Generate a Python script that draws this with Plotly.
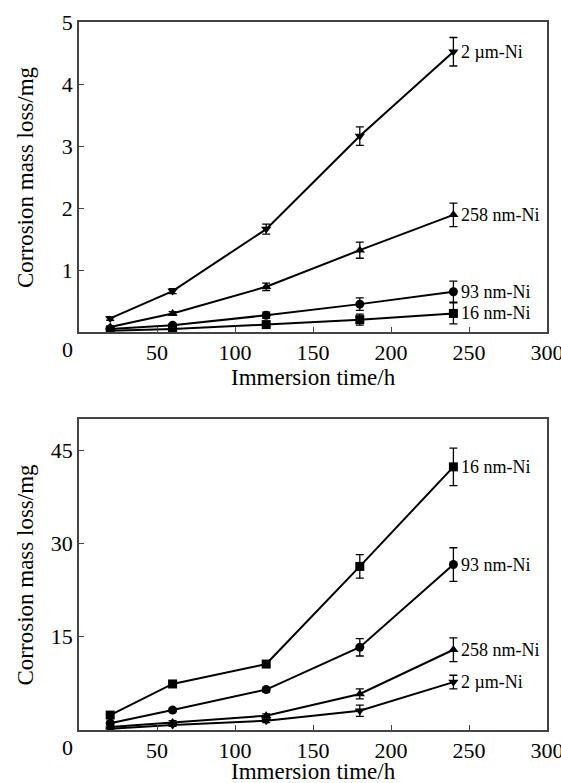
import plotly.graph_objects as go

# ---- data ----
time_h = [20, 60, 120, 180, 240]
series_names = ["2 µm-Ni", "258 nm-Ni", "93 nm-Ni", "16 nm-Ni"]
symbols = ["triangle-down", "triangle-up", "circle", "square"]

# top panel
top_vals = {
    "2 µm-Ni":   [0.22, 0.66, 1.66, 3.16, 4.52],
    "258 nm-Ni": [0.08, 0.30, 0.73, 1.32, 1.89],
    "93 nm-Ni":  [0.05, 0.11, 0.27, 0.45, 0.65],
    "16 nm-Ni":  [0.02, 0.05, 0.12, 0.20, 0.30],
}
top_err = {
    "2 µm-Ni":   [0.03, 0.04, 0.08, 0.15, 0.23],
    "258 nm-Ni": [0.02, 0.03, 0.06, 0.13, 0.19],
    "93 nm-Ni":  [0.02, 0.02, 0.05, 0.10, 0.17],
    "16 nm-Ni":  [0.02, 0.02, 0.03, 0.09, 0.17],
}
# bottom panel
bot_vals = {
    "16 nm-Ni":  [2.4, 7.4, 10.6, 26.3, 42.3],
    "93 nm-Ni":  [1.1, 3.2, 6.5, 13.3, 26.6],
    "258 nm-Ni": [0.5, 1.2, 2.3, 5.8, 12.9],
    "2 µm-Ni":   [0.2, 0.8, 1.5, 3.1, 7.7],
}
bot_err = {
    "16 nm-Ni":  [0.3, 0.3, 0.4, 1.9, 3.0],
    "93 nm-Ni":  [0.3, 0.3, 0.4, 1.4, 2.7],
    "258 nm-Ni": [0.2, 0.3, 0.3, 0.8, 1.9],
    "2 µm-Ni":   [0.2, 0.2, 0.3, 0.9, 1.1],
}

x_ticks = [50, 100, 150, 200, 250, 300]
top_yticks = [1, 2, 3, 4, 5]
bot_yticks = [15, 30, 45]
x_title = "Immersion time/h"
y_title = "Corrosion mass loss/mg"

FONT = "Liberation Serif, Times New Roman, serif"
AX = "#444444"

fig = go.Figure()

for name, sym in zip(series_names, symbols):
    for vals, errs, xa, ya in [(top_vals, top_err, "x", "y"), (bot_vals, bot_err, "x2", "y2")]:
        fig.add_trace(go.Scatter(
            x=time_h, y=vals[name], mode="lines+markers", name=name,
            xaxis=xa, yaxis=ya, showlegend=False,
            line=dict(color="black", width=2),
            marker=dict(symbol=sym, size=9, color="black"),
            error_y=dict(type="data", array=errs[name], color="black",
                         thickness=1.3, width=4),
        ))

annotations = []
for vals, yref, xref in [(top_vals, "y", "x"), (bot_vals, "y2", "x2")]:
    for name in series_names:
        annotations.append(dict(
            x=time_h[-1], y=vals[name][-1], xref=xref, yref=yref,
            text=name, showarrow=False, xanchor="left", yanchor="middle",
            xshift=6, font=dict(family=FONT, size=18, color="black")))

# origin "0" labels, axis titles
for xref, xdom, ydom, shift in [("x", "x domain", "y domain", -45),
                                ("x2", "x2 domain", "y2 domain", -41)]:
    annotations.append(dict(x=0, y=0, xref=xref, yref=ydom, text="0",
                            showarrow=False, xanchor="center", yanchor="top",
                            xshift=-12, yshift=-3,
                            font=dict(family=FONT, size=22, color="black")))
    annotations.append(dict(x=0.5, y=0, xref=xdom, yref=ydom, text=x_title,
                            showarrow=False, xanchor="center", yanchor="middle",
                            yshift=shift,
                            font=dict(family=FONT, size=23, color="black")))
    annotations.append(dict(x=-0.1154, y=0.5, xref="paper", yref=ydom,
                            text=y_title, textangle=-90, showarrow=False,
                            xanchor="center", yanchor="middle",
                            font=dict(family=FONT, size=23, color="black")))

def xaxis(anchor):
    return dict(range=[0, 300], tickvals=x_ticks, ticks="inside", ticklen=5,
                tickcolor=AX, showline=True, linecolor=AX, linewidth=1.5,
                mirror=True, showgrid=False, zeroline=False, anchor=anchor,
                ticklabeloverflow="allow",
                tickfont=dict(family=FONT, size=22, color="black"))

def yaxis(rng, ticks, domain, anchor):
    return dict(range=rng, tickvals=ticks, ticks="inside", ticklen=5,
                tickcolor=AX, showline=True, linecolor=AX, linewidth=1.5,
                mirror=True, showgrid=False, zeroline=False, domain=domain,
                anchor=anchor,
                tickfont=dict(family=FONT, size=22, color="black"))

fig.update_layout(
    width=561, height=783,
    margin=dict(l=79, r=14, t=22, b=53, autoexpand=False),
    paper_bgcolor="white", plot_bgcolor="white",
    xaxis=xaxis("y"),
    yaxis=yaxis([0, 5], top_yticks, [0.5621, 1.0], "x"),
    xaxis2=xaxis("y2"),
    yaxis2=yaxis([0, 50], bot_yticks, [0.0, 0.4393], "x2"),
    annotations=annotations,
)

fig.write_html("out.html")
